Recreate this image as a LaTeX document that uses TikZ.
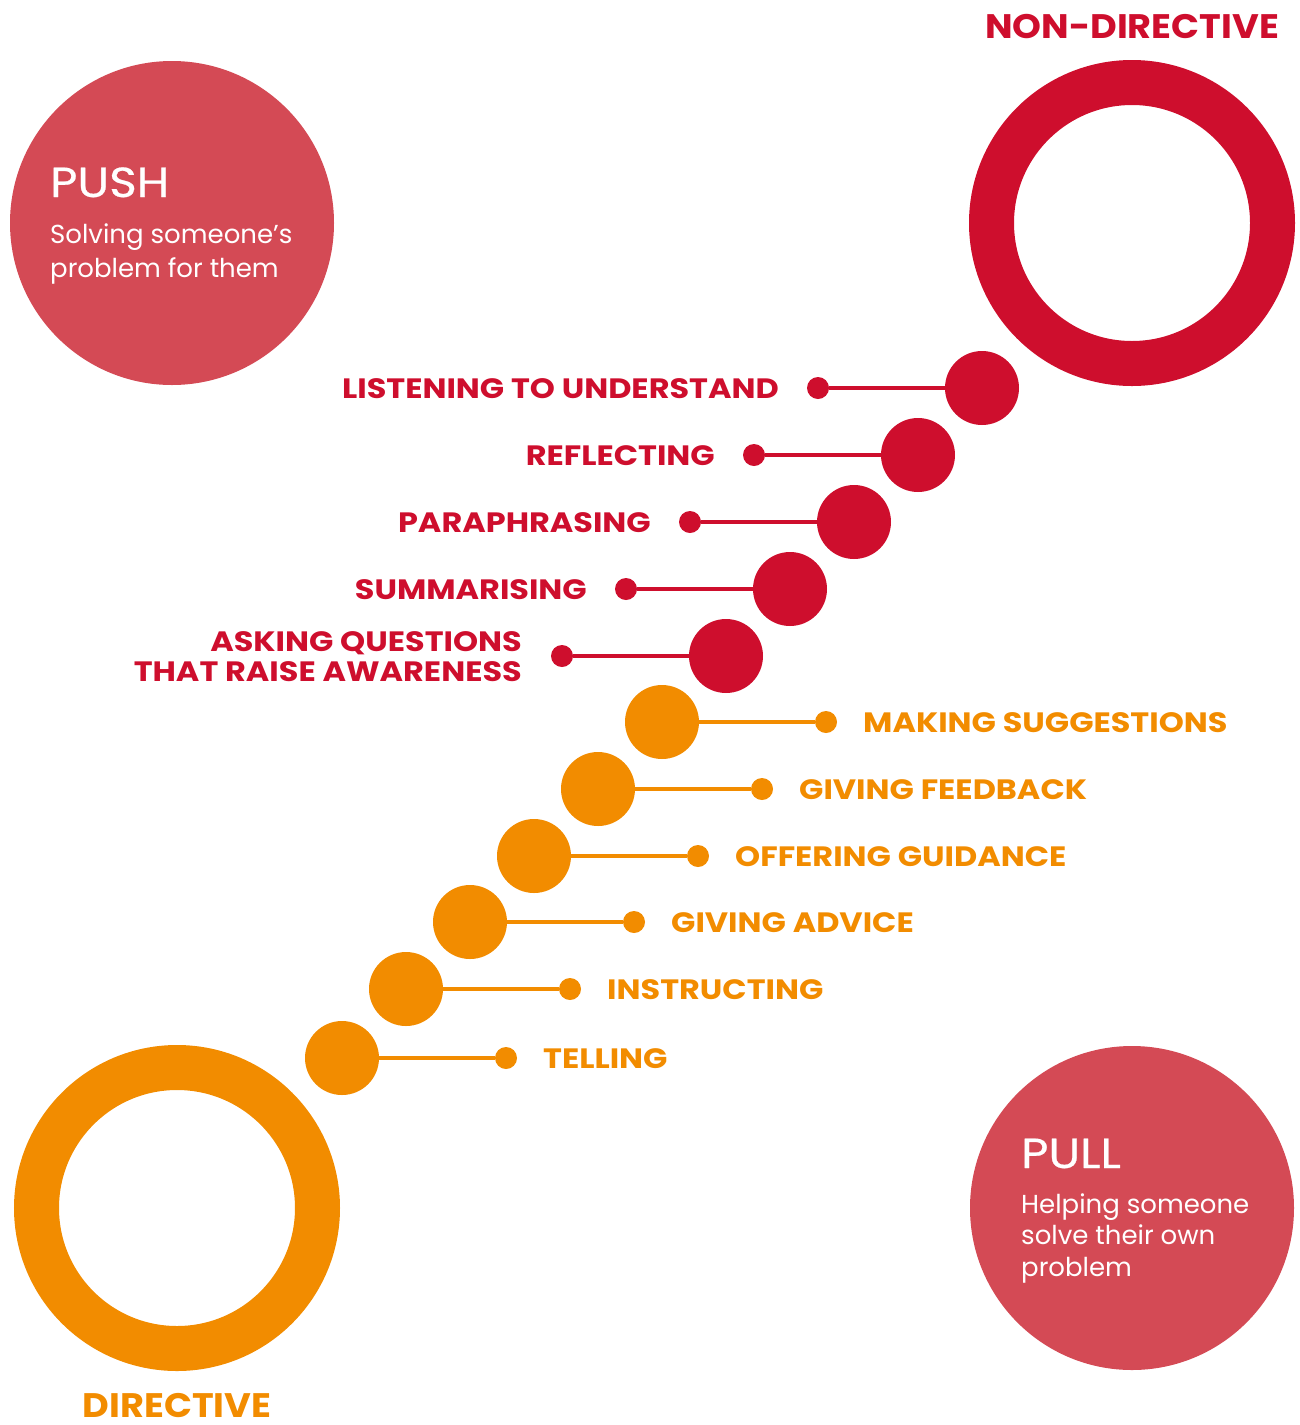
\documentclass[tikz,border=0pt]{standalone}
\usepackage{fontspec}
\setmainfont{Poppins}
% wider cuts of the same face for the capitals
\newfontfamily\stepfont[FakeStretch=1.14]{Poppins}
\newfontfamily\polefont[FakeStretch=1.08]{Poppins}
\newfontfamily\titlefont[FakeStretch=1.12,FakeBold=0.6]{Poppins}
\definecolor{crimson}{HTML}{CE0E2D}
\definecolor{amber}{HTML}{F28C00}
\definecolor{rose}{HTML}{D44A55}
\begin{document}
\begin{tikzpicture}[x=1pt,y=-1pt,
  bigdot/.style={circle, fill, minimum size=74pt, inner sep=0pt},
  smalldot/.style={circle, fill, minimum size=22pt, inner sep=0pt},
  stem/.style={line width=4pt},
  steplabel/.style={font=\stepfont\bfseries\fontsize{28}{30}\selectfont, inner sep=0pt},
  ring/.style={circle, draw, line width=45pt, minimum size=281pt, inner sep=0pt},
  disc/.style={circle, fill=rose, minimum size=324pt, inner sep=0pt},
  poletitle/.style={font=\polefont\bfseries\fontsize{34}{36}\selectfont, inner sep=0pt},
  boxtitle/.style={font=\titlefont\fontsize{42}{44}\selectfont, text=white, inner sep=0pt, anchor=base west},
  boxtext/.style={font=\fontsize{26}{28}\selectfont, text=white, inner sep=0pt, anchor=base west}]
\useasboundingbox (0,0) rectangle (1300,1425);

% the two poles
\node[ring, draw=crimson] (nondir) at (1132,223) {};
\node[poletitle, text=crimson, anchor=base] (nondirlbl) at (1132,38) {NON-DIRECTIVE};
\node[ring, draw=amber] (dir) at (177,1208) {};
\node[poletitle, text=amber, anchor=base] (dirlbl) at (177,1417) {DIRECTIVE};

% push / pull discs
\node[disc] (push) at (172,223) {};
\node[boxtitle] (pushttl) at (50,197) {PUSH};
\node[boxtext] (push1) at (50,243) {Solving someone’s};
\node[boxtext] (push2) at (50,277) {problem for them};

\node[disc] (pull) at (1132,1208) {};
\node[boxtitle] (pullttl) at (1021,1168) {PULL};
\node[boxtext] (pull1) at (1021,1213) {Helping someone};
\node[boxtext] (pull2) at (1021,1244) {solve their own};
\node[boxtext] (pull3) at (1021,1276) {problem};

% non-directive steps: label on the left
\foreach \k/\bx/\by/\txt in {1/982/388/LISTENING TO UNDERSTAND,
                             2/918/455/REFLECTING,
                             3/854/522/PARAPHRASING,
                             4/790/589/SUMMARISING}{
  \node[bigdot, crimson] (r\k) at (\bx,\by) {};
  \node[smalldot, crimson] (rs\k) at (\bx-164,\by) {};
  \draw[stem, crimson] (r\k) -- (rs\k);
  \node[steplabel, text=crimson, anchor=base east] (rl\k) at (\bx-203,\by+10) {\txt};
}
\node[bigdot, crimson] (r5) at (726,656) {};
\node[smalldot, crimson] (rs5) at (562,656) {};
\draw[stem, crimson] (r5) -- (rs5);
\node[steplabel, text=crimson, anchor=base east] (rl5a) at (522,651) {ASKING QUESTIONS};
\node[steplabel, text=crimson, anchor=base east] (rl5b) at (522,681) {THAT RAISE AWARENESS};

% directive steps: label on the right
\foreach \k/\bx/\by/\txt in {1/662/722/MAKING SUGGESTIONS,
                             2/598/789/GIVING FEEDBACK,
                             3/534/856/OFFERING GUIDANCE,
                             4/470/922/GIVING ADVICE,
                             5/406/989/INSTRUCTING,
                             6/342/1058/TELLING}{
  \node[bigdot, amber] (o\k) at (\bx,\by) {};
  \node[smalldot, amber] (os\k) at (\bx+164,\by) {};
  \draw[stem, amber] (o\k) -- (os\k);
  \node[steplabel, text=amber, anchor=base west] (ol\k) at (\bx+201,\by+10) {\txt};
}
\end{tikzpicture}
\end{document}
